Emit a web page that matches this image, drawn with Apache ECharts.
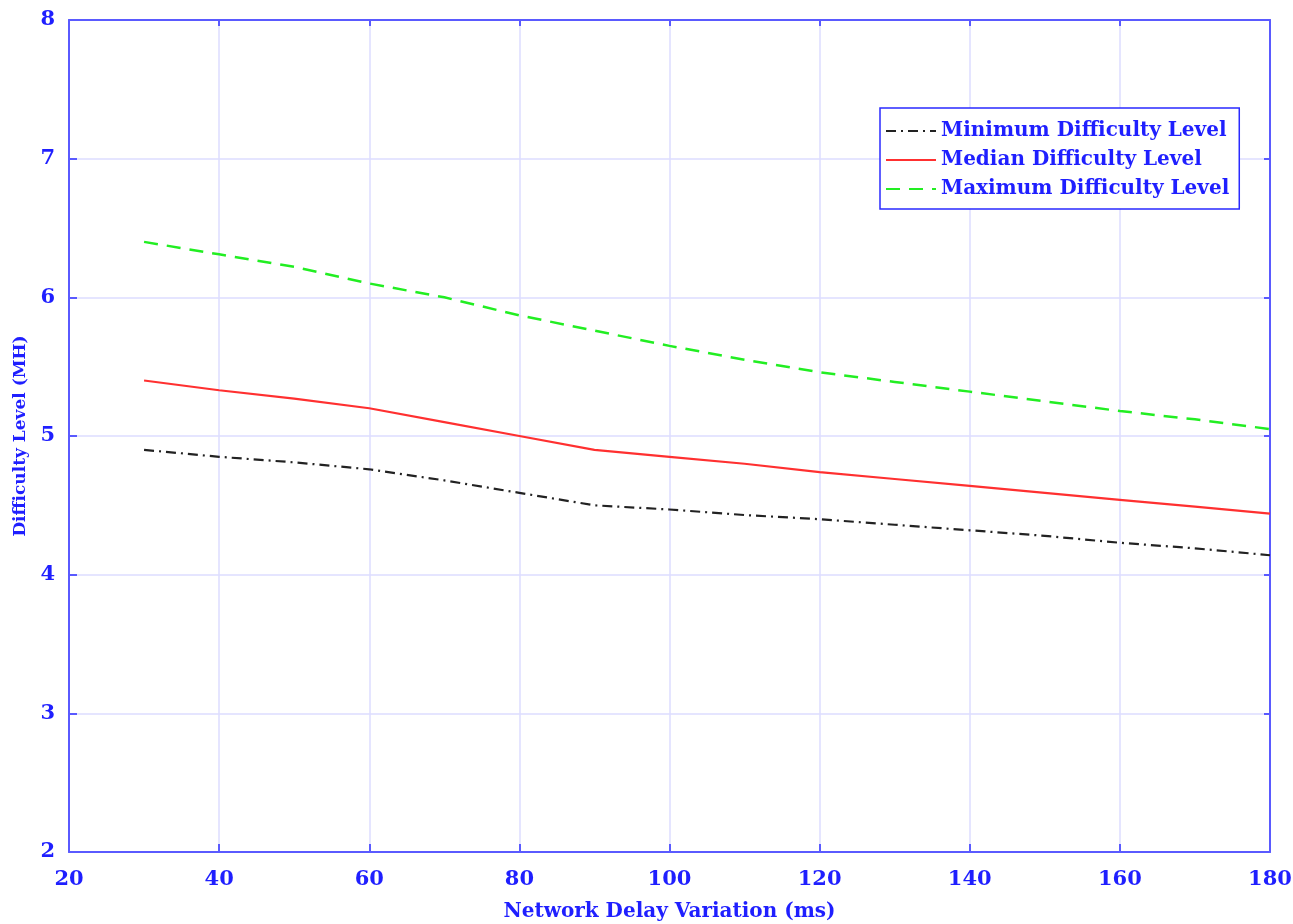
<!DOCTYPE html>
<html>
<head>
<meta charset="utf-8">
<script src="https://cdn.jsdelivr.net/npm/echarts@6/dist/echarts.min.js"></script>
<style>
  html, body { margin: 0; padding: 0; background: #fff; }
  #chart { width: 1293px; height: 924px; }
</style>
</head>
<body>
<div id="chart"></div>
<script>
  // delay variation (ms)
  var delays = [30, 40, 50, 60, 70, 80, 90, 100, 110, 120, 130, 140, 150, 160, 170, 180];
  var minLevel = [4.90, 4.85, 4.81, 4.76, 4.68, 4.59, 4.50, 4.47, 4.43, 4.40, 4.36, 4.32, 4.28, 4.23, 4.19, 4.14];
  var medLevel = [5.40, 5.33, 5.27, 5.20, 5.10, 5.00, 4.90, 4.85, 4.80, 4.74, 4.69, 4.64, 4.59, 4.54, 4.49, 4.44];
  var maxLevel = [6.40, 6.31, 6.22, 6.10, 6.00, 5.87, 5.76, 5.65, 5.55, 5.46, 5.39, 5.32, 5.25, 5.18, 5.12, 5.05];
  var seriesNames = ['Minimum Difficulty Level', 'Median Difficulty Level', 'Maximum Difficulty Level'];

  var blue = '#1f1fff';
  var axisBlue = '#5a5aff';
  var font = '"DejaVu Serif", "Liberation Serif", serif';

  function pairs(ys) {
    return delays.map(function (x, i) { return [x, ys[i]]; });
  }

  var myChart = echarts.init(document.getElementById('chart'));

  // top and right edges of the box
  var frameAxis = {
    axisLine: { show: true, lineStyle: { color: axisBlue, width: 2 } },
    axisTick: { show: true, inside: true, length: 6, lineStyle: { color: axisBlue, width: 2 } },
    axisLabel: { show: false },
    splitLine: { show: false }
  };

  myChart.setOption({
    backgroundColor: '#fff',
    animation: false,
    grid: { left: 69, right: 23, top: 20, bottom: 72, containLabel: false, outerBoundsMode: 'none' },
    legend: {
      orient: 'vertical',
      left: 880,
      top: 108,
      padding: [13, 10, 10, 5],
      itemWidth: 50,
      itemHeight: 10,
      itemGap: 9,
      borderColor: '#2a2aff',
      borderWidth: 1.5,
      backgroundColor: '#fff',
      itemStyle: { color: 'transparent', borderColor: 'transparent', borderWidth: 0 },
      textStyle: { color: blue, fontFamily: font, fontWeight: 'bold', fontSize: 20, lineHeight: 20 },
      data: seriesNames
    },
    xAxis: [{
      type: 'value',
      min: 20, max: 180, interval: 20,
      name: 'Network Delay Variation (ms)',
      nameLocation: 'middle',
      nameGap: 50,
      nameTextStyle: { color: blue, fontFamily: font, fontWeight: 'bold', fontSize: 20 },
      axisLine: { show: true, lineStyle: { color: axisBlue, width: 2 } },
      axisTick: { show: true, inside: true, length: 8, lineStyle: { color: axisBlue, width: 2 } },
      axisLabel: { color: blue, fontFamily: font, fontWeight: 'bold', fontSize: 21, margin: 17 },
      splitLine: { show: true, lineStyle: { color: '#dcdcff', width: 1.5 } }
    }, Object.assign({ type: 'value', position: 'top', min: 20, max: 180, interval: 20 }, frameAxis)],
    yAxis: [{
      type: 'value',
      min: 2, max: 8, interval: 1,
      name: 'Difficulty Level (MH)',
      nameLocation: 'middle',
      nameGap: 40,
      nameTextStyle: { color: blue, fontFamily: font, fontWeight: 'bold', fontSize: 17 },
      axisLine: { show: true, lineStyle: { color: axisBlue, width: 2 } },
      axisTick: { show: true, inside: true, length: 8, lineStyle: { color: axisBlue, width: 2 } },
      axisLabel: { color: blue, fontFamily: font, fontWeight: 'bold', fontSize: 21, margin: 14 },
      splitLine: { show: true, lineStyle: { color: '#dcdcff', width: 1.5 } }
    }, Object.assign({ type: 'value', position: 'right', min: 2, max: 8, interval: 1 }, frameAxis)],
    series: [{
      name: seriesNames[0],
      type: 'line',
      symbol: 'none',
      data: pairs(minLevel),
      lineStyle: { color: '#222', width: 2.2, type: [10, 5, 2, 5] },
      itemStyle: { color: '#222' }
    }, {
      name: seriesNames[1],
      type: 'line',
      symbol: 'none',
      data: pairs(medLevel),
      lineStyle: { color: '#ff3030', width: 2.2, type: 'solid' },
      itemStyle: { color: '#ff3030' }
    }, {
      name: seriesNames[2],
      type: 'line',
      symbol: 'none',
      data: pairs(maxLevel),
      lineStyle: { color: '#22ee22', width: 2.5, type: [14, 9] },
      itemStyle: { color: '#22ee22' }
    }]
  });

  window.addEventListener('resize', function () {
    myChart.resize();
  });
</script>
</body>
</html>
